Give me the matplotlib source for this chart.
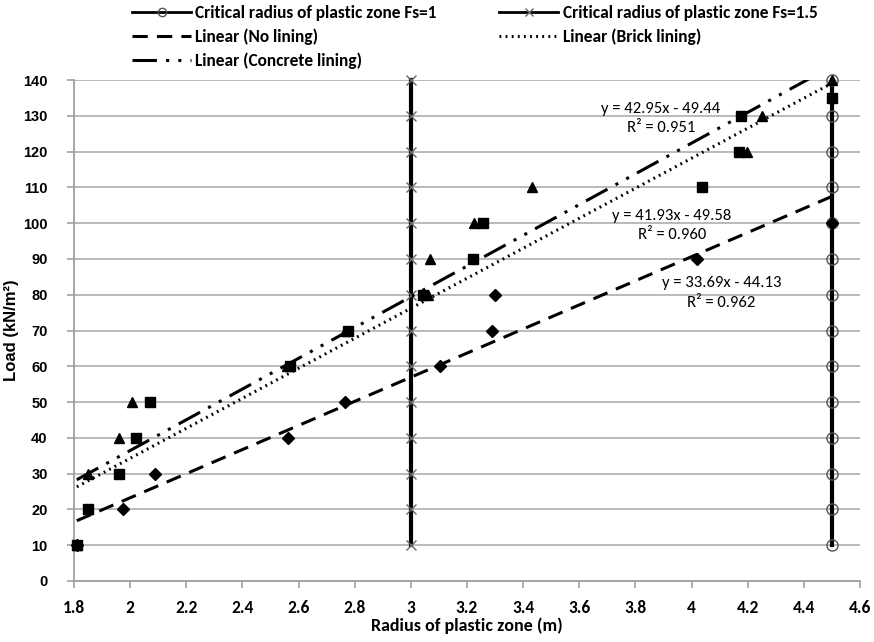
import numpy as np
import matplotlib
matplotlib.use("Agg")
import matplotlib.pyplot as plt
from matplotlib.lines import Line2D

# load levels (kN/m2)
loads = [10, 20, 30, 40, 50, 60, 70, 80, 90, 100, 110, 120, 130, 140]

# measured radius of plastic zone
no_lining_x = [1.81, 1.976, 2.087, 2.563, 2.766, 3.104, 3.288, 3.30, 4.018, 4.5]
no_lining_y = [10, 20, 30, 40, 50, 60, 70, 80, 90, 100]
brick_x = [1.81, 1.85, 1.96, 2.02, 2.07, 2.57, 2.777, 3.044, 3.222, 3.258, 4.038, 4.169, 4.176, 4.5]
brick_y = [10, 20, 30, 40, 50, 60, 70, 80, 90, 100, 110, 120, 130, 135]
concrete_x = [1.81, 1.85, 1.85, 1.96, 2.008, 2.56, 2.766, 3.06, 3.068, 3.225, 3.43, 4.199, 4.25, 4.5]
concrete_y = [10, 20, 30, 40, 50, 60, 70, 80, 90, 100, 110, 120, 130, 140]

# critical radius lines
crit_fs1 = 4.5
crit_fs15 = 3.0

# trend lines (from chart labels): no lining, brick, concrete
trend_slope = [33.69, 41.93, 42.95]
trend_icpt = [-44.13, -49.58, -49.44]
trend_r2 = ["0.962", "0.960", "0.951"]

cal = ["Carlito", "Liberation Sans", "DejaVu Sans"]
ari = ["Liberation Sans", "DejaVu Sans"]

fig = plt.figure(figsize=(8.74, 6.42), dpi=100)
ax = fig.add_axes([74/874, 61/642, 786/874, 501/642])

ax.set_xlim(1.8, 4.6)
ax.set_ylim(0, 140)
xt = np.arange(1.8, 4.61, 0.2)
ax.set_xticks(xt)
ax.set_yticks(np.arange(0, 141, 10))
ax.set_xticklabels(["%g" % round(v, 1) for v in xt], family=cal, fontsize=12.5,
                   fontweight="bold")
ax.set_yticklabels([str(v) for v in range(0, 141, 10)], family=ari, fontsize=10.5,
                   fontweight="bold")
ax.yaxis.grid(True, color="#b4b4b4", lw=1.3)
ax.set_axisbelow(True)
for s in ["top", "right"]:
    ax.spines[s].set_visible(False)
for s in ["left", "bottom"]:
    ax.spines[s].set_color("#a0a0a0")
    ax.spines[s].set_linewidth(1.3)
ax.tick_params(axis="both", color="#a0a0a0", length=5, width=1.2)
ax.tick_params(axis="x", pad=9)
ax.tick_params(axis="y", pad=14)

# critical radius lines
fs1, = ax.plot([crit_fs1]*len(loads), loads, color="black", lw=3, marker="o",
               ms=8, mfc="none", mec="#555555", mew=1, zorder=3, clip_on=False)
fs15, = ax.plot([crit_fs15]*len(loads), loads, color="black", lw=3, marker="x",
                ms=7, mec="#666666", mew=1, zorder=3, clip_on=False)

# trend lines
xs_lo = [min(no_lining_x), min(brick_x), min(concrete_x)]
xs_hi = [max(no_lining_x), max(brick_x), max(concrete_x)]
styles = [(0, (5, 3)), (0, (0.6, 1.4)), (0, (8, 3, 1, 3, 1, 3))]
trend_lines = []
for i in range(3):
    xx = np.array([xs_lo[i], xs_hi[i]])
    ln, = ax.plot(xx, trend_slope[i]*xx + trend_icpt[i], color="black", lw=2.2,
                  linestyle=styles[i], zorder=4)
    trend_lines.append(ln)

# data points
ax.plot(no_lining_x, no_lining_y, "D", color="black", ms=6.5, zorder=5, clip_on=False)
ax.plot(brick_x, brick_y, "s", color="black", ms=6.5, zorder=5, clip_on=False)
ax.plot(concrete_x, concrete_y, "^", color="black", ms=6.5, zorder=5, clip_on=False)

# equation labels
eq_pos = [(4.107, 83.3, 77.6), (3.93, 102, 96.8), (3.89, 131.8, 126.5)]
for i in range(3):
    xx, y1, y2 = eq_pos[i]
    sign = "-" if trend_icpt[i] < 0 else "+"
    ax.text(xx, y1, "y = %.2fx %s %.2f" % (trend_slope[i], sign, abs(trend_icpt[i])),
            ha="center", va="center", fontsize=12, family=cal, zorder=6)
    ax.text(xx, y2, "R\u00b2 = %s" % trend_r2[i], ha="center", va="center",
            fontsize=12, family=cal, zorder=6)

ax.set_xlabel("Radius of plastic zone (m)", family=cal, fontsize=13,
              fontweight="bold", labelpad=1)
ax.set_ylabel("Load (kN/m\u00b2)", family=ari, fontsize=12,
              fontweight="bold", labelpad=3)

handles = [
    Line2D([], [], color="black", lw=2, marker="o", ms=6, mfc="none", mec="#555555", mew=1),
    trend_lines[0], trend_lines[2],
    Line2D([], [], color="black", lw=2, marker="x", ms=6, mec="#666666", mew=1),
    trend_lines[1],
]
labels = ["Critical radius of plastic zone Fs=1", "Linear (No lining)",
          "Linear (Concrete lining)", "Critical radius of plastic zone Fs=1.5",
          "Linear (Brick lining)"]
fig.legend(handles, labels, ncol=2, loc="upper left",
           bbox_to_anchor=(132/874, 1 - 5/642), borderpad=0, borderaxespad=0,
           frameon=False, handlelength=3.4, handletextpad=0.25, columnspacing=3.6,
           labelspacing=0.42, prop={"family": cal, "size": 12.5, "weight": "bold"})

fig.savefig("out.png", dpi=100)
